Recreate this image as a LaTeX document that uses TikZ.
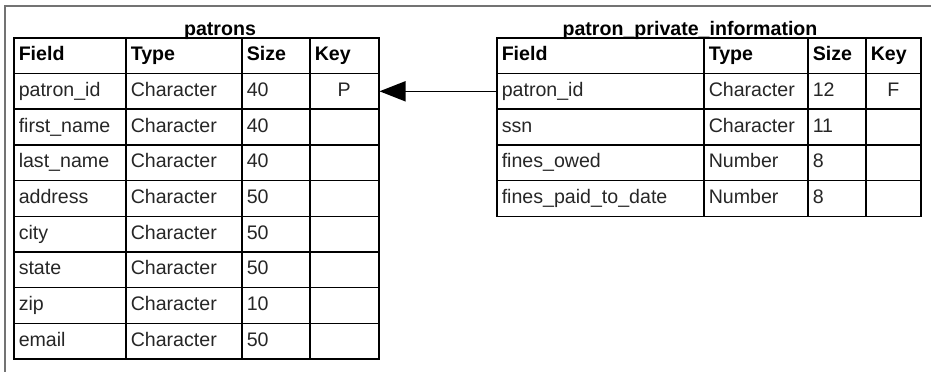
\documentclass[tikz,border=0pt]{standalone}
\usepackage{fontspec}
\setmainfont{Liberation Sans}
\usetikzlibrary{arrows.meta}

\tikzset{
  tabcell/.style={draw, line width=1.5pt, anchor=north west, minimum height=35.7pt,
    inner xsep=5pt, inner ysep=0pt, align=left, text=black!85,
    text height=14pt, text depth=4pt,
    font=\fontsize{19.6}{22}\selectfont},
  tabhead/.style={tabcell, text=black, font=\fontsize{19.6}{22}\selectfont\bfseries},
  tabtitle/.style={anchor=base, inner sep=0pt, font=\fontsize{19.6}{22}\selectfont\bfseries},
  keycell/.style={tabcell, align=center},
  pageframe/.style={draw=black!55, line width=1.1pt},
  fklink/.style={-{Triangle[length=26pt,width=20pt]}, line width=1.6pt}
}

\begin{document}
\begin{tikzpicture}[x=1pt, y=-1pt]
  \useasboundingbox (0,0) rectangle (931,372);
  \draw[pageframe] (931,6) -- (5,6) -- (5,372);

  % patrons table
  \node[tabtitle] (pat-title) at (220,35.5) {patrons};
  \node[tabhead, text width=102pt] (pat-0-1) at (13,37) {Field};
  \node[tabhead, text width=106pt] (pat-0-2) at (125,37) {Type};
  \node[tabhead, text width=58pt] (pat-0-3) at (241,37) {Size};
  \node[tabhead, text width=59pt] (pat-0-4) at (309,37) {Key};
  \foreach \f/\t/\s/\k [count=\i] in {patron\_id/Character/40/P, first\_name/Character/40/{},
      last\_name/Character/40/{}, address/Character/50/{}, city/Character/50/{},
      state/Character/50/{}, zip/Character/10/{}, email/Character/50/{}} {
    \node[tabcell, text width=102pt] (pat-\i-1) at (13,{37+35.7*\i}) {\f};
    \node[tabcell, text width=106pt] (pat-\i-2) at (125,{37+35.7*\i}) {\t};
    \node[tabcell, text width=58pt] (pat-\i-3) at (241,{37+35.7*\i}) {\s};
    \node[keycell, text width=59pt] (pat-\i-4) at (309,{37+35.7*\i}) {\k};
  }

  % patron_private_information table
  \node[tabtitle] (ppi-title) at (690,35.5) {patron\_private\_information};
  \node[tabhead, text width=197pt] (ppi-0-1) at (496,37) {Field};
  \node[tabhead, text width=94pt] (ppi-0-2) at (703,37) {Type};
  \node[tabhead, text width=48pt] (ppi-0-3) at (807,37) {Size};
  \node[tabhead, text width=45pt] (ppi-0-4) at (865,37) {Key};
  \foreach \f/\t/\s/\k [count=\i] in {patron\_id/Character/12/F, ssn/Character/11/{},
      fines\_owed/Number/8/{}, fines\_paid\_to\_date/Number/8/{}} {
    \node[tabcell, text width=197pt] (ppi-\i-1) at (496,{37+35.7*\i}) {\f};
    \node[tabcell, text width=94pt] (ppi-\i-2) at (703,{37+35.7*\i}) {\t};
    \node[tabcell, text width=48pt] (ppi-\i-3) at (807,{37+35.7*\i}) {\s};
    \node[keycell, text width=45pt] (ppi-\i-4) at (865,{37+35.7*\i}) {\k};
  }

  % foreign key
  \draw[fklink] (ppi-1-1.west) -- (pat-1-4.east);
\end{tikzpicture}
\end{document}
